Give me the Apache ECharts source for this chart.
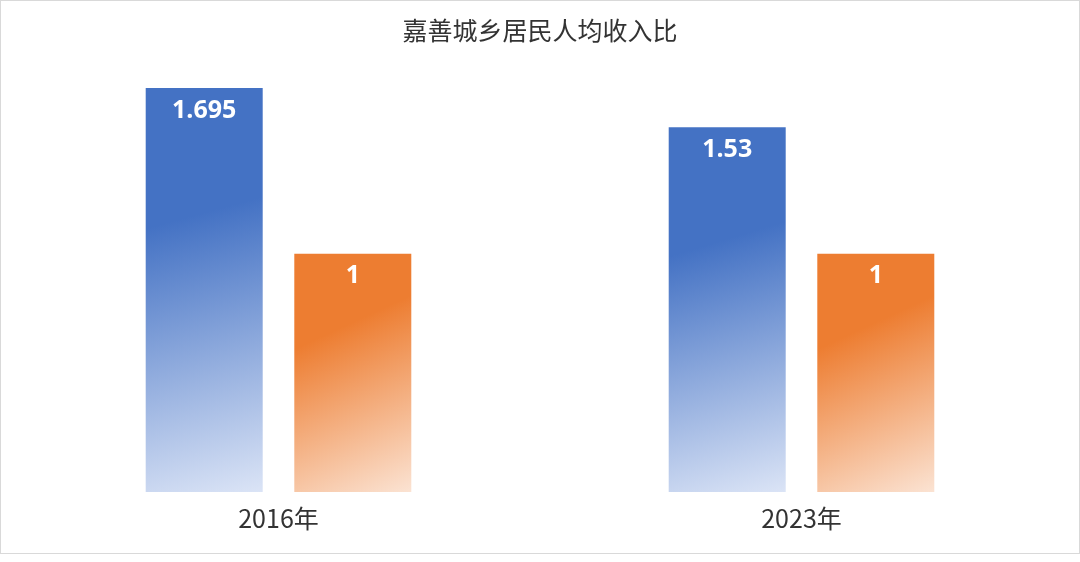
<!DOCTYPE html>
<html>
<head>
<meta charset="utf-8">
<script src="https://cdn.jsdelivr.net/npm/echarts@6/dist/echarts.min.js"></script>
<style>
html,body{margin:0;padding:0;background:#fff;}
#main{position:absolute;left:0;top:0;width:1078px;height:552px;border:1px solid #d9d9d9;}
</style>
</head>
<body>
<div id="main"></div>
<script>
var years = ['2016年', '2023年'];
var urbanRatio = [1.695, 1.53];
var ruralRatio = [1, 1];

function grad(c1, c2) {
	return new echarts.graphic.LinearGradient(0.2, 0.15, 1, 1, [
		{offset: 0, color: c1},
		{offset: 0.2, color: c1},
		{offset: 1, color: c2}
	]);
}

var label = {
	show: true,
	position: 'insideTop',
	distance: 10,
	color: '#fff',
	fontSize: 25,
	fontWeight: 'bold',
	fontFamily: 'Open Sans'
};

var option = {
	title: {
		text: '嘉善城乡居民人均收入比',
		left: 'center',
		top: 12,
		textStyle: {fontSize: 25, fontWeight: 'normal', color: '#333', fontFamily: 'Noto Sans CJK SC'}
	},
	grid: {left: 16, right: 16, top: 87, bottom: 61},
	xAxis: {
		type: 'category',
		data: years,
		axisLine: {show: false},
		axisTick: {show: false},
		axisLabel: {fontSize: 25, color: '#333', margin: 14, fontFamily: 'Noto Sans CJK SC'}
	},
	yAxis: {
		type: 'value',
		min: 0,
		max: 1.695,
		show: false,
		splitLine: {show: false}
	},
	series: [{
		type: 'bar',
		data: urbanRatio,
		barWidth: 117,
		barGap: '27%',
		label: label,
		itemStyle: {color: grad('#4472C4', '#dbe4f6')}
	}, {
		type: 'bar',
		data: ruralRatio,
		barWidth: 117,
		label: label,
		itemStyle: {color: grad('#ED7D31', '#fbe3d3')}
	}]
};

var myChart = echarts.init(document.getElementById('main'));
myChart.setOption(option);
</script>
</body>
</html>
